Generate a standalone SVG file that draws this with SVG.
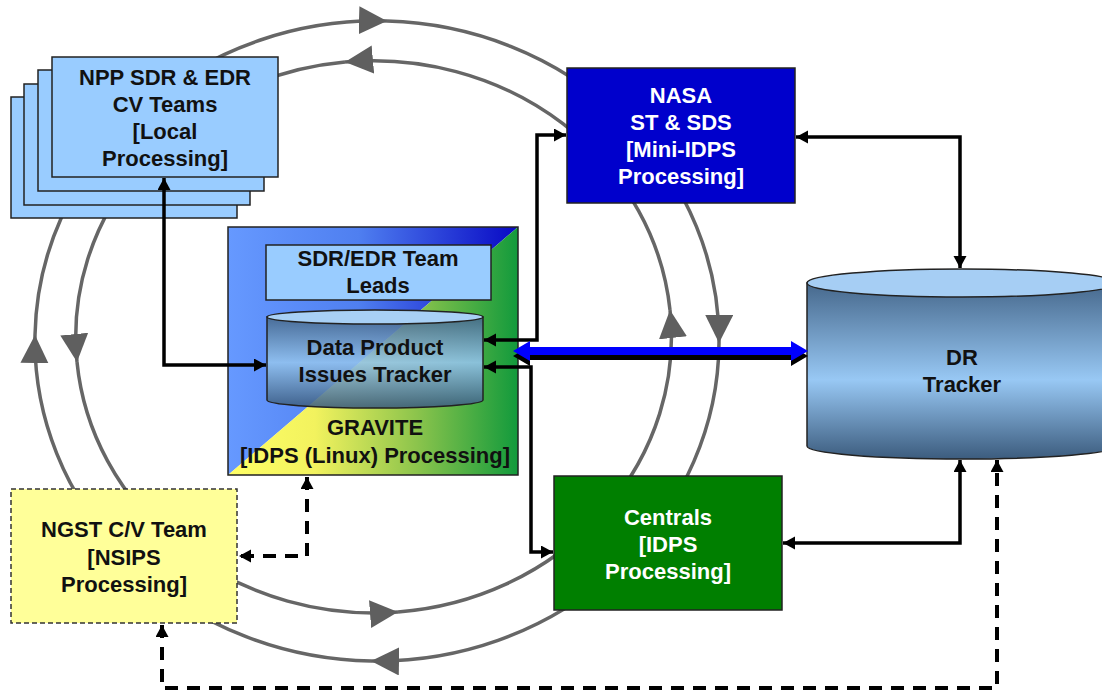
<svg xmlns="http://www.w3.org/2000/svg" width="1102" height="692" viewBox="0 0 1102 692">
<defs>
<style>
.ring{fill:none;stroke:#666;stroke-width:3.5;marker-end:url(#ga)}
.box{stroke:#222;stroke-width:1.5}
.t{font-family:"Liberation Sans",Arial,sans-serif;font-weight:bold;font-size:22px;text-anchor:middle;fill:#111}
.w{fill:#fff}
.c{fill:none;stroke:#000;stroke-width:3.5;marker-start:url(#ba);marker-end:url(#ba)}
.d{stroke-dasharray:13,9;stroke-width:4}
</style>
<marker id="ga" markerUnits="userSpaceOnUse" markerWidth="30" markerHeight="30" refX="28" refY="14" orient="auto"><path d="M0,0 L28,14 L0,28 Z" fill="#5f5f5f"/></marker>
<marker id="ba" markerUnits="userSpaceOnUse" markerWidth="14" markerHeight="14" refX="12" refY="6.5" orient="auto-start-reverse"><path d="M0,0 L12,6.5 L0,13 Z" fill="#000"/></marker>
<linearGradient id="gblue" x1="228" y1="0" x2="518" y2="0" gradientUnits="userSpaceOnUse"><stop offset="0" stop-color="#6699FF"/><stop offset="0.45" stop-color="#4f7ff0"/><stop offset="1" stop-color="#0808C4"/></linearGradient>
<linearGradient id="gyg" x1="228" y1="0" x2="518" y2="0" gradientUnits="userSpaceOnUse"><stop offset="0" stop-color="#FFFF66"/><stop offset="0.3" stop-color="#F2F25E"/><stop offset="0.65" stop-color="#8CC44C"/><stop offset="1" stop-color="#129A3C"/></linearGradient>
<linearGradient id="gcyl" x1="0" y1="0" x2="0" y2="1"><stop offset="0" stop-color="#45678A"/><stop offset="0.5" stop-color="#94C4EE"/><stop offset="1" stop-color="#3A5A7C"/></linearGradient>
<linearGradient id="gcyl2" x1="0" y1="0" x2="0" y2="1"><stop offset="0" stop-color="#46688C"/><stop offset="0.55" stop-color="#98C8F4"/><stop offset="1" stop-color="#3C5C7E"/></linearGradient>
</defs>

<g id="rings">
<path class="ring" d="M35,335 A342,320 0 0 1 387,21"/>
<path class="ring" d="M387,21 A342,320 0 0 1 719,343"/>
<path class="ring" d="M719,343 A342,320 0 0 1 371,661"/>
<path class="ring" d="M371,661 A342,320 0 0 1 35,335"/>
<path class="ring" d="M670,310 A298,276 0 0 0 345,62"/>
<path class="ring" d="M345,62 A298,276 0 0 0 77,362"/>
<path class="ring" d="M77,362 A298,276 0 0 0 398,612"/>
<path class="ring" d="M398,612 A298,276 0 0 0 670,310"/>
</g>

<g id="npp">
<rect class="box" x="11" y="97" width="226" height="121" fill="#99CCFF"/>
<rect class="box" x="24" y="84" width="226" height="121" fill="#99CCFF"/>
<rect class="box" x="38" y="70" width="226" height="121" fill="#99CCFF"/>
<rect class="box" x="52" y="57" width="226" height="120" fill="#99CCFF"/>
<text class="t" x="165" y="85">NPP SDR &amp; EDR</text>
<text class="t" x="165" y="112">CV Teams</text>
<text class="t" x="165" y="139">[Local</text>
<text class="t" x="165" y="166">Processing]</text>
</g>

<g id="nasa">
<rect class="box" x="567" y="68" width="228" height="135" fill="#0000CC"/>
<text class="t w" x="681" y="103">NASA</text>
<text class="t w" x="681" y="130">ST &amp; SDS</text>
<text class="t w" x="681" y="157">[Mini-IDPS</text>
<text class="t w" x="681" y="184">Processing]</text>
</g>

<g id="gravite">
<polygon points="228,227 518,227 228,475" fill="url(#gblue)"/>
<polygon points="518,227 518,475 228,475" fill="url(#gyg)"/>
<rect class="box" x="228" y="227" width="290" height="248" fill="none"/>
<text class="t" x="375" y="435">GRAVITE</text>
<text class="t" x="375" y="463">[IDPS (Linux) Processing]</text>
</g>

<g id="leads">
<rect class="box" x="266" y="245" width="225" height="55" fill="#99CCFF"/>
<text class="t" x="378" y="266">SDR/EDR Team</text>
<text class="t" x="378" y="293">Leads</text>
</g>

<g id="dpit">
<path class="box" d="M267,317 V400 A108,8 0 0 0 483,400 V317 Z" fill="url(#gcyl)" fill-opacity="0.88"/>
<ellipse class="box" cx="375" cy="317" rx="108" ry="7" fill="#A8D0F5"/>
<text class="t" x="375" y="355">Data Product</text>
<text class="t" x="375" y="382">Issues Tracker</text>
</g>

<g id="drtracker">
<path class="box" d="M807,283 V446 A155,13 0 0 0 1117,446 V283 Z" fill="url(#gcyl2)"/>
<ellipse class="box" cx="962" cy="283" rx="155" ry="14" fill="#A6CEF4"/>
<text class="t" x="962" y="365">DR</text>
<text class="t" x="962" y="392">Tracker</text>
</g>

<g id="ngst">
<rect x="11" y="489" width="226" height="134" fill="#FFFF99" stroke="#333" stroke-width="1.5" stroke-dasharray="5,3"/>
<text class="t" x="124" y="537">NGST C/V Team</text>
<text class="t" x="124" y="565">[NSIPS</text>
<text class="t" x="124" y="592">Processing]</text>
</g>

<g id="centrals">
<rect class="box" x="554" y="476" width="228" height="134" fill="#007F00"/>
<text class="t w" x="668" y="525">Centrals</text>
<text class="t w" x="668" y="552">[IDPS</text>
<text class="t w" x="668" y="579">Processing]</text>
</g>

<g id="connectors">
<path class="c" d="M164,178 V365 H266"/>
<path class="c" d="M484,340 H537 V135 H566"/>
<path class="c" d="M484,367 H531 V552 H553"/>
<path class="c" d="M796,137 H960 V268"/>
<path class="c" d="M783,543 H960 V460"/>
<path class="c d" d="M307,477 V556 H239"/>
<path class="c d" d="M162,625 V688 H997 V460"/>
<polygon points="513,356 530,346 530,352 791,352 791,346 808,356 791,366 791,360 530,360 530,366" fill="#000"/>
<polygon points="513,351 530,341 530,347 791,347 791,341 808,351 791,361 791,355 530,355 530,361" fill="#0000FF"/>
</g>
</svg>
